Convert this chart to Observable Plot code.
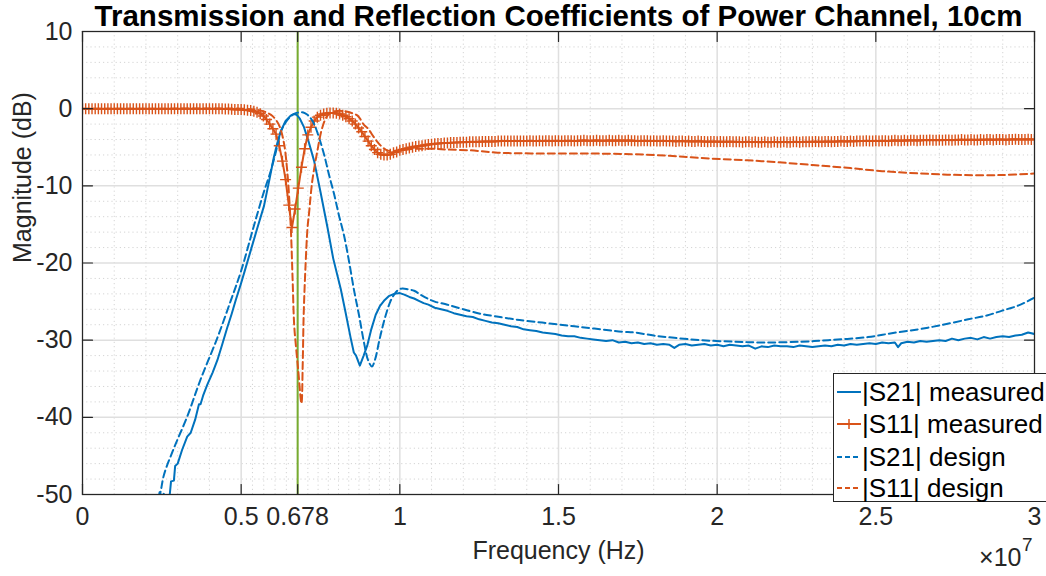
<!DOCTYPE html>
<html><head><meta charset="utf-8">
<script src="https://cdn.jsdelivr.net/npm/d3@7"></script>
<script src="https://cdn.jsdelivr.net/npm/@observablehq/plot@0.6"></script>
<style>
html,body{margin:0;padding:0;background:#fff;overflow:hidden;}
#wrap{position:relative;width:1046px;height:576px;overflow:hidden;}
#legend{position:absolute;left:833px;top:373px;width:240px;height:127px;border:1px solid #262626;background:#fff;font-family:"Liberation Sans",Arial,sans-serif;font-size:26px;color:#000;}
.row{position:absolute;left:0;height:30px;line-height:30px;white-space:nowrap;}
.row svg{position:absolute;left:2px;top:5px;}
.row span{position:absolute;left:28px;top:0;}
</style></head>
<body><div id="wrap"></div>
<script>
// Frequencies are in units of 1e7 Hz (axis multiplier ×10^7)
const title = "Transmission and Reflection Coefficients of Power Channel, 10cm";
const xLabel = "Frequency (Hz)";
const yLabel = "Magnitude (dB)";
const seriesNames = ["|S21| measured", "|S11| measured", "|S21| design", "|S11| design"];
const xTicks = [0, 0.5, 0.678, 1, 1.5, 2, 2.5, 3];
const xMinor = [0.1,0.2,0.3,0.4, 0.5356,0.5712,0.6068,0.6424,
  0.7102,0.7424,0.7746,0.8068,0.839,0.8712,0.9034,0.9356,0.9678,
  1.1,1.2,1.3,1.4,1.6,1.7,1.8,1.9,2.1,2.2,2.3,2.4,2.6,2.7,2.8,2.9];
const yTicks = [10, 0, -10, -20, -30, -40, -50];
const yMinor = [8,6,4,2,-2,-4,-6,-8,-12,-14,-16,-18,-22,-24,-26,-28,-32,-34,-36,-38,-42,-44,-46,-48];
const markerFreq = [0.678];

// |S21| measured
const s21mF = [0.20,0.235,0.243,0.250,0.256,0.262,0.270,0.275,0.279,0.288,0.292,0.300,0.314,0.330,0.341,0.355,0.367,0.372,0.380,0.393,0.410,0.425,0.440,0.456,0.470,0.483,0.500,0.515,0.530,0.550,0.572,0.590,0.603,0.615,0.625,0.640,0.656,0.665,0.675,0.685,0.698,0.712,0.730,0.750,0.772,0.790,0.814,0.830,0.845,0.855,0.862,0.874,0.886,0.898,0.910,0.924,0.937,0.950,0.965,0.982,1.000,1.014,1.030,1.045,1.060,1.075,1.090,
1.11,1.13,1.15,1.17,1.19,1.21,1.23,1.25,1.27,1.29,1.31,1.33,1.35,1.37,1.39,1.41,1.43,1.45,1.47,1.49,1.51,1.53,1.55,1.57,1.59,1.61,1.63,1.65,1.67,1.69,1.71,1.73,1.75,1.77,1.79,1.81,1.83,1.85,1.865,1.88,1.90,1.92,1.94,1.96,1.98,2.00,2.02,2.04,2.06,2.08,2.10,2.12,2.14,2.16,2.18,2.20,2.22,2.24,2.26,2.28,2.30,2.32,2.34,2.36,2.38,2.40,2.42,2.44,2.46,2.48,2.50,2.52,2.54,2.56,2.57,2.58,2.60,2.62,2.64,2.66,2.68,2.70,2.72,2.74,2.76,2.78,2.80,2.82,2.84,2.86,2.88,2.90,2.92,2.94,2.96,2.98,3.00];
const s21mDb = [-54,-51.5,-49.7,-50.3,-49.9,-51,-50.8,-50,-48.3,-48.2,-46.3,-46.0,-44.2,-42.5,-42.0,-40.3,-38.3,-38.3,-37.2,-35.8,-34.2,-32.6,-30.6,-28.4,-26.6,-24.8,-22.6,-20.5,-18.4,-15.6,-12.6,-9.0,-6.3,-4.3,-2.9,-1.6,-0.9,-0.7,-0.8,-1.3,-2.4,-4.2,-6.8,-10.8,-15.4,-19.4,-23.4,-26.6,-29.7,-31.6,-32.0,-33.3,-32.0,-30.6,-28.6,-26.7,-25.6,-24.9,-24.3,-24.0,-23.9,-24.1,-24.4,-24.6,-24.9,-25.2,-25.4,
-25.8,-26.0,-26.2,-26.5,-26.7,-26.9,-27.0,-27.3,-27.5,-27.7,-27.8,-28.0,-28.2,-28.3,-28.6,-28.7,-28.8,-29.0,-29.1,-29.2,-29.4,-29.5,-29.5,-29.7,-29.8,-29.9,-30.0,-30.1,-30.0,-30.3,-30.2,-30.4,-30.3,-30.5,-30.4,-30.6,-30.5,-30.6,-31.0,-30.6,-30.5,-30.7,-30.6,-30.5,-30.7,-30.6,-30.8,-30.6,-30.7,-30.8,-30.7,-31.1,-30.8,-30.9,-30.7,-30.8,-30.8,-30.9,-30.7,-30.8,-30.9,-30.8,-30.7,-30.8,-30.6,-30.7,-30.5,-30.6,-30.5,-30.4,-30.5,-30.3,-30.4,-30.3,-30.9,-30.4,-30.2,-30.3,-30.1,-30.2,-30.1,-30.0,-30.1,-29.8,-30.0,-29.8,-29.7,-29.9,-29.6,-29.8,-29.6,-29.5,-29.6,-29.4,-29.3,-29.0,-29.2];

// |S11| measured: sweep from 0 to 3 (x1e7 Hz), step 0.01
const s11mStart = 0, s11mStep = 0.01;
const s11mDb = [
0,0,0,0,0,0,0,0,0,0,
0,0,0,0,0,0,0,0,0,0,
0,0,0,0,0,0,0,0,0,0,
0,0,0,0,0,0,0,0,0,0,
0,0,0,0,0,-0.05,-0.05,-0.08,-0.1,-0.1,
-0.12,-0.15,-0.2,-0.25,-0.35,-0.45,-0.65,-0.95,-1.4,-2.0,
-2.6,-3.3,-4.8,-6.8,-9.2,-12.5,-15.4,-13.0,-10.3,-7.6,
-5.2,-3.4,-2.4,-1.6,-1.1,-0.85,-0.7,-0.6,-0.55,-0.55,
-0.6,-0.7,-0.85,-1.05,-1.3,-1.6,-2.0,-2.5,-3.0,-3.6,
-4.2,-4.8,-5.3,-5.7,-5.9,-6.0,-6.0,-5.9,-5.7,-5.6,
-5.4,-5.3,-5.2,-5.1,-5.0,-4.9,-4.85,-4.8,-4.7,-4.65,
-4.6,-4.55,-4.5,-4.5,-4.45,-4.45,-4.4,-4.4,-4.4,-4.35,
-4.35,-4.35,-4.3,-4.3,-4.3,-4.3,-4.25,-4.25,-4.25,-4.25,
-4.25,-4.2,-4.2,-4.2,-4.2,-4.2,-4.2,-4.2,-4.2,-4.2,
-4.2,-4.15,-4.2,-4.2,-4.15,-4.2,-4.15,-4.15,-4.2,-4.15,
-4.15,-4.2,-4.15,-4.15,-4.15,-4.2,-4.15,-4.15,-4.1,-4.15,
-4.15,-4.15,-4.1,-4.15,-4.15,-4.15,-4.1,-4.15,-4.15,-4.1,
-4.15,-4.15,-4.1,-4.15,-4.15,-4.2,-4.15,-4.15,-4.15,-4.2,
-4.15,-4.2,-4.2,-4.15,-4.2,-4.2,-4.2,-4.25,-4.2,-4.2,
-4.25,-4.2,-4.25,-4.25,-4.2,-4.25,-4.25,-4.3,-4.25,-4.25,
-4.3,-4.25,-4.3,-4.3,-4.25,-4.3,-4.3,-4.3,-4.35,-4.3,
-4.3,-4.35,-4.3,-4.35,-4.35,-4.3,-4.35,-4.35,-4.3,-4.35,
-4.35,-4.3,-4.35,-4.35,-4.3,-4.3,-4.35,-4.3,-4.3,-4.3,
-4.3,-4.25,-4.3,-4.3,-4.25,-4.25,-4.3,-4.25,-4.25,-4.2,
-4.25,-4.25,-4.2,-4.25,-4.2,-4.2,-4.2,-4.15,-4.2,-4.2,
-4.15,-4.2,-4.15,-4.15,-4.2,-4.15,-4.1,-4.15,-4.15,-4.1,
-4.15,-4.1,-4.1,-4.15,-4.1,-4.1,-4.1,-4.05,-4.1,-4.1,
-4.05,-4.1,-4.05,-4.05,-4.1,-4.05,-4.05,-4.0,-4.05,-4.05,
-4.0,-4.05,-4.05,-4.0,-4.05,-4.0,-4.0,-4.05,-4.0,-4.0,
-4.0,-4.05,-4.0,-4.0,-3.95,-4.0,-4.0,-4.0,-3.95,-4.0,
-4.0];

// |S21| design
const s21dF = [0.20,0.244,0.257,0.288,0.330,0.372,0.425,0.467,0.500,0.540,0.570,0.593,0.610,0.625,0.640,0.656,0.670,0.682,0.696,0.709,0.720,0.730,0.745,0.761,0.777,0.793,0.808,0.824,0.840,0.856,0.872,0.887,0.900,0.912,0.922,0.935,0.946,0.956,0.970,0.982,0.995,1.008,1.025,1.045,1.065,1.087,1.11,1.15,1.20,1.256,1.30,1.361,1.40,1.487,1.55,1.613,1.70,1.739,1.80,1.865,1.95,2.055,2.15,2.265,2.35,2.475,2.55,2.633,2.70,2.791,2.85,2.896,2.95,3.00];
const s21dDb = [-56,-50,-47.4,-44,-39.9,-35.1,-29.7,-24.9,-21.0,-15.2,-11.0,-8.1,-5.5,-3.0,-1.8,-1.0,-0.6,-0.5,-0.5,-0.8,-1.3,-2.0,-3.7,-5.9,-8.6,-11.1,-13.8,-16.4,-19.8,-23.6,-26.9,-30.3,-32.6,-33.4,-32.5,-30.1,-28.2,-26.7,-25.0,-24.1,-23.5,-23.3,-23.4,-23.6,-24.1,-24.6,-25.0,-25.4,-26.0,-26.6,-26.9,-27.3,-27.5,-27.9,-28.2,-28.5,-28.9,-29.0,-29.4,-29.7,-30.0,-30.2,-30.3,-30.2,-30.0,-29.6,-29.1,-28.6,-28.1,-27.3,-26.8,-26.2,-25.5,-24.5];

// |S11| design
const s11dF = [0,0.25,0.50,0.55,0.58,0.60,0.62,0.635,0.645,0.652,0.657,0.662,0.667,0.672,0.680,0.690,0.694,0.697,0.703,0.709,0.714,0.724,0.740,0.756,0.772,0.790,0.803,0.820,0.835,0.850,0.867,0.887,0.900,0.920,0.940,0.955,0.970,1.00,1.05,1.10,1.15,1.224,1.308,1.413,1.571,1.729,1.85,1.95,2.05,2.14,2.24,2.33,2.42,2.52,2.64,2.77,2.90,3.00];
const s11dDb = [0,0,0,-0.15,-0.5,-1.0,-2.2,-4.5,-8.0,-12.0,-16.0,-22.0,-28.0,-30.5,-34.0,-38.2,-33.0,-26.7,-20.2,-15.5,-13.5,-9.4,-5.5,-2.4,-0.9,-0.4,-0.3,-0.3,-0.4,-0.6,-0.9,-2.1,-2.6,-3.8,-4.8,-5.3,-5.5,-5.4,-5.2,-5.2,-5.3,-5.4,-5.7,-5.8,-5.8,-5.9,-6.1,-6.4,-6.6,-6.8,-7.1,-7.4,-7.7,-8.1,-8.4,-8.6,-8.6,-8.4];

const blue = "#0072BD", orange = "#D95319", green = "#77AC30", axisColor = "#262626";
const zip = (F, D) => F.map((f, i) => ({f, db: D[i]}));
const s21m = zip(s21mF, s21mDb);
const s11m = s11mDb.map((db, i) => ({f: s11mStart + i * s11mStep, db}));
const s21d = zip(s21dF, s21dDb);
const s11d = zip(s11dF, s11dDb);

const tickShape = {draw(ctx, l) { ctx.moveTo(0, 0); ctx.lineTo(0, -l); }};
const plusSymbol = {draw(ctx, size) { const r = Math.sqrt(size / Math.PI); ctx.moveTo(-r, 0); ctx.lineTo(r, 0); ctx.moveTo(0, -r); ctx.lineTo(0, r); }};
const font = "'Liberation Sans', Arial, Helvetica, sans-serif";

const chart = Plot.plot({
  width: 1046, height: 576,
  marginLeft: 82, marginRight: 12, marginTop: 31, marginBottom: 82,
  style: {fontFamily: font, fontSize: "25px", background: "#fff", overflow: "visible"},
  x: {domain: [0, 3]},
  y: {domain: [-50, 10]},
  marks: [
    Plot.ruleY(yMinor, {stroke: "#d4d4d4", strokeDasharray: "1.2,3", strokeWidth: 1}),
    Plot.ruleX(xMinor, {stroke: "#d4d4d4", strokeDasharray: "1.2,3", strokeWidth: 1}),
    Plot.ruleY(yTicks, {stroke: "#dfdfdf", strokeWidth: 1.5}),
    Plot.ruleX(xTicks, {stroke: "#dfdfdf", strokeWidth: 1.5}),
    Plot.ruleX(markerFreq, {stroke: green, strokeWidth: 2}),
    Plot.line(s21m, {x: "f", y: "db", stroke: blue, strokeWidth: 2, clip: true}),
    Plot.line(s11m, {x: "f", y: "db", stroke: orange, strokeWidth: 2, clip: true}),
    Plot.dot(s11m, {x: "f", y: "db", symbol: plusSymbol, r: 5.5, stroke: orange, strokeWidth: 1.4, fill: "none", clip: true}),
    Plot.line(s21d, {x: "f", y: "db", stroke: blue, strokeWidth: 2, strokeDasharray: "7,4", curve: "catmull-rom", clip: true}),
    Plot.line(s11d, {x: "f", y: "db", stroke: orange, strokeWidth: 2, strokeDasharray: "7,4", curve: "catmull-rom", clip: true}),
    Plot.frame({stroke: axisColor, strokeWidth: 1.2}),
    Plot.vector(xTicks, {x: d => d, frameAnchor: "bottom", length: 10, rotate: 0, anchor: "start", shape: tickShape, stroke: axisColor, strokeWidth: 1.2}),
    Plot.vector(xTicks, {x: d => d, frameAnchor: "top", length: 10, rotate: 180, anchor: "start", shape: tickShape, stroke: axisColor, strokeWidth: 1.2}),
    Plot.vector(yTicks, {y: d => d, frameAnchor: "left", length: 10, rotate: 90, anchor: "start", shape: tickShape, stroke: axisColor, strokeWidth: 1.2}),
    Plot.vector(yTicks, {y: d => d, frameAnchor: "right", length: 10, rotate: -90, anchor: "start", shape: tickShape, stroke: axisColor, strokeWidth: 1.2}),
    Plot.axisX(xTicks, {tickSize: 0, tickPadding: 13, tickFormat: d => String(d), fontSize: 25, color: axisColor, label: null}),
    Plot.axisY(yTicks, {tickSize: 0, tickPadding: 10, tickFormat: d => String(d), fontSize: 25, color: axisColor, label: null}),
    Plot.text([title], {frameAnchor: "top", dy: -6, lineAnchor: "bottom", fontWeight: "bold", fontSize: 29.5, fill: "#000"}),
    Plot.text([xLabel], {frameAnchor: "bottom", dy: 56, lineAnchor: "middle", fontSize: 25, fill: axisColor}),
    Plot.text([yLabel], {frameAnchor: "left", dx: -60, rotate: -90, lineAnchor: "middle", fontSize: 25, fill: axisColor}),
    Plot.text(["×10"], {frameAnchor: "bottom-right", dx: -13, dy: 63, textAnchor: "end", lineAnchor: "middle", fontSize: 25, fill: axisColor}),
    Plot.text(["7"], {frameAnchor: "bottom-right", dx: -2, dy: 50, textAnchor: "end", lineAnchor: "middle", fontSize: 19, fill: axisColor})
  ]
});
const wrap = document.getElementById("wrap");
wrap.appendChild(chart);

// Legend
const legend = document.createElement("div");
legend.id = "legend";
const styles = [
  {stroke: blue, dash: null, marker: false},
  {stroke: orange, dash: null, marker: true},
  {stroke: blue, dash: "5,3", marker: false},
  {stroke: orange, dash: "5,3", marker: false}
];
const rowTops = [3, 35, 68, 99];
seriesNames.forEach((name, i) => {
  const s = styles[i];
  const row = document.createElement("div");
  row.className = "row";
  row.style.top = rowTops[i] + "px";
  row.innerHTML = `<svg width="26" height="20"><line x1="1" y1="10" x2="25" y2="10" stroke="${s.stroke}" stroke-width="2" ${s.dash ? `stroke-dasharray="${s.dash}"` : ""}/>${s.marker ? `<path d="M8,10H18M13,5V15" stroke="${s.stroke}" stroke-width="1.5"/>` : ""}</svg><span>${name}</span>`;
  legend.appendChild(row);
});
wrap.appendChild(legend);
</script>
</body></html>
